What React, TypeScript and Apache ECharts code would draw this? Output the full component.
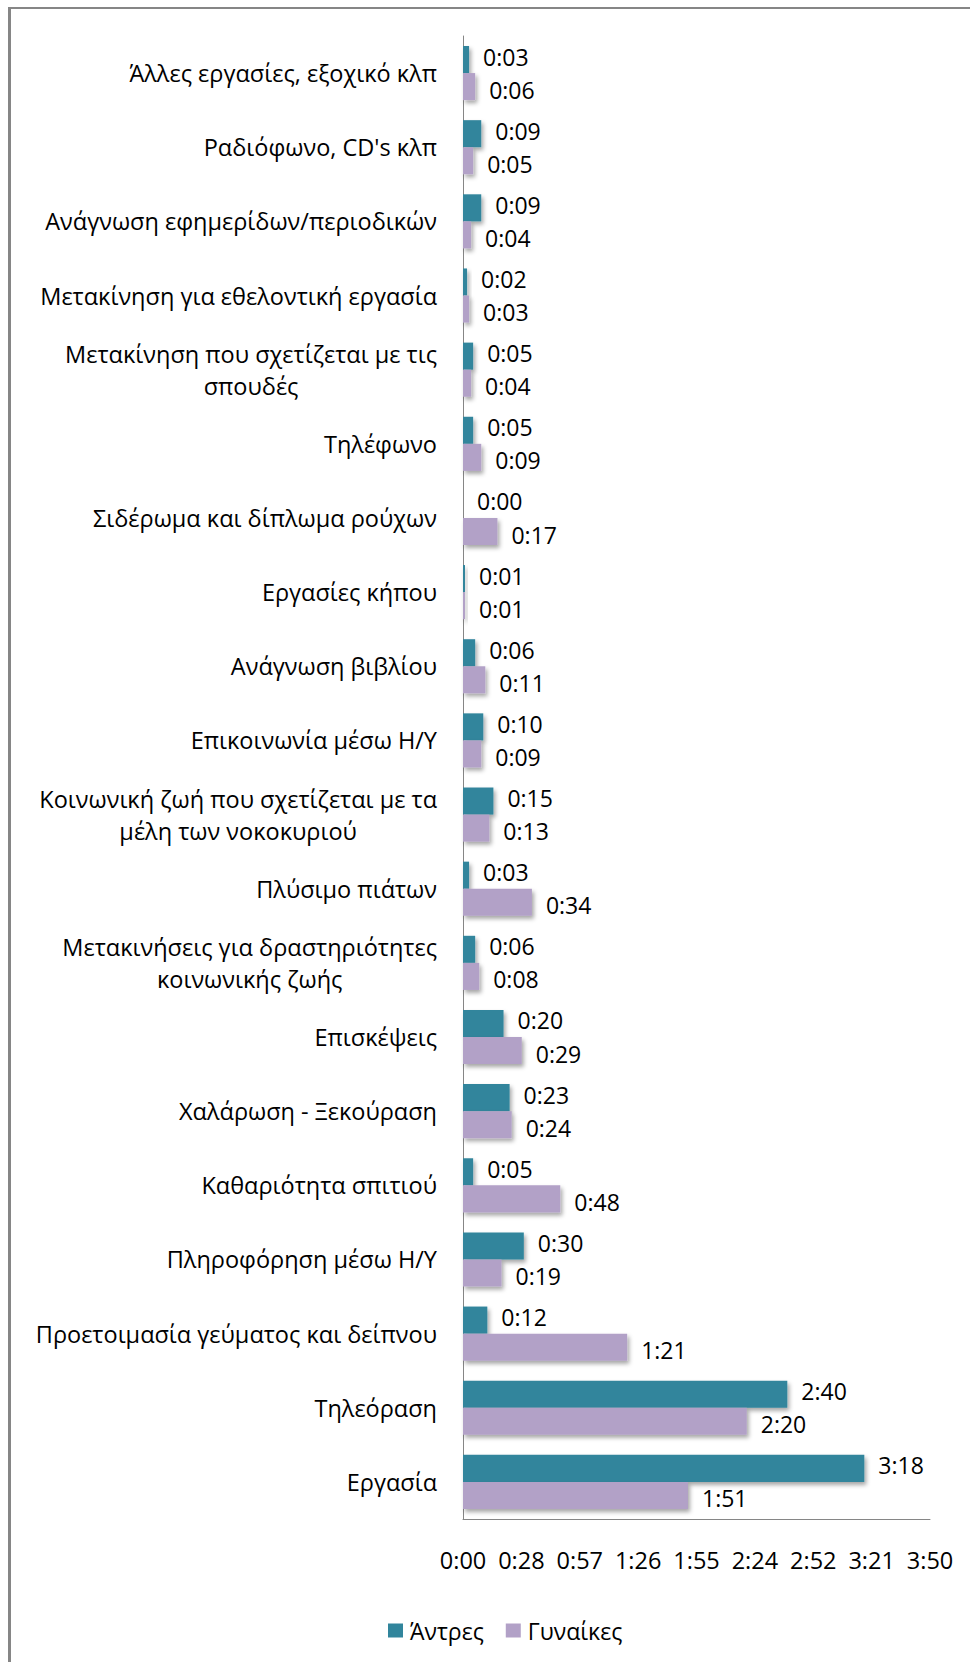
import React, { useEffect, useRef } from "react";
import * as echarts from "echarts";

// Categories, top to bottom as shown
const categories: string[] = [
  "Άλλες εργασίες, εξοχικό κλπ",
  "Ραδιόφωνο, CD's κλπ",
  "Ανάγνωση εφημερίδων/περιοδικών",
  "Μετακίνηση για εθελοντική εργασία",
  "Μετακίνηση που σχετίζεται με τις\nσπουδές",
  "Τηλέφωνο",
  "Σιδέρωμα και δίπλωμα ρούχων",
  "Εργασίες κήπου",
  "Ανάγνωση βιβλίου",
  "Επικοινωνία μέσω Η/Υ",
  "Κοινωνική ζωή που σχετίζεται με τα\nμέλη των νοκοκυριού",
  "Πλύσιμο πιάτων",
  "Μετακινήσεις για δραστηριότητες\nκοινωνικής ζωής",
  "Επισκέψεις",
  "Χαλάρωση - Ξεκούραση",
  "Καθαριότητα σπιτιού",
  "Πληροφόρηση μέσω Η/Υ",
  "Προετοιμασία γεύματος και δείπνου",
  "Τηλεόραση",
  "Εργασία",
];

// Minutes per day
const men: number[] = [3, 9, 9, 2, 5, 5, 0, 1, 6, 10, 15, 3, 6, 20, 23, 5, 30, 12, 160, 198];
const women: number[] = [6, 5, 4, 3, 4, 9, 17, 1, 11, 9, 13, 34, 8, 29, 24, 48, 19, 81, 140, 111];

const seriesNames: string[] = ["Άντρες", "Γυναίκες"];
const seriesColors: string[] = ["#31859C", "#B2A1C7"];

// Axis: 0.02 day steps (28.8 min) up to 0.16 day
const axisMax = 230.4;
const axisStep = 28.8;

const FONT = "Open Sans";

function fmt(v: number): string {
  const r = Math.round(v * 10) / 10;
  const h = Math.floor(r / 60);
  const m = Math.floor(r - h * 60);
  return h + ":" + (m < 10 ? "0" : "") + m;
}

export default function App() {
  const ref = useRef<HTMLDivElement>(null);
  useEffect(() => {
    if (!ref.current) return;
    const chart = echarts.init(ref.current, undefined, { renderer: "svg" });
    const mkSeries = (idx: number, data: number[]) => ({
      type: "bar",
      name: seriesNames[idx],
      data,
      barCategoryGap: "27%",
      barGap: "0%",
      itemStyle: {
        color: seriesColors[idx],
        shadowColor: "rgba(0,0,0,0.35)",
        shadowBlur: 4,
        shadowOffsetX: 2,
        shadowOffsetY: 3,
      },
      label: {
        show: true,
        position: "right",
        distance: 14,
        offset: [0, idx === 0 ? -3 : 3],
        color: "#000",
        fontFamily: FONT,
        fontSize: 23,
        lineHeight: 26,
        formatter: (p: any) => fmt(p.value),
      },
    });
    chart.setOption({
      animation: false,
      backgroundColor: "#fff",
      textStyle: { fontFamily: FONT },
      grid: { left: 463, right: 40, top: 36, bottom: 143, containLabel: false },
      xAxis: {
        type: "value",
        min: 0,
        max: axisMax,
        interval: axisStep,
        splitLine: { show: false },
        axisTick: { show: false },
        axisLine: { show: true, lineStyle: { color: "#868686", width: 1 } },
        axisLabel: {
          margin: 29,
          color: "#000",
          fontFamily: FONT,
          fontSize: 23.5,
          formatter: (v: number) => fmt(v),
        },
      },
      yAxis: {
        type: "category",
        inverse: true,
        data: categories,
        axisTick: { show: false },
        axisLine: { show: true, lineStyle: { color: "#868686", width: 1 } },
        axisLabel: {
          margin: 26,
          color: "#000",
          fontFamily: FONT,
          fontSize: 23.5,
          lineHeight: 32,
          formatter: (v: string) =>
            v
              .split("\n")
              .map((s) => "{c|" + s + "}")
              .join("\n"),
          rich: {
            c: { align: "center", fontFamily: FONT, fontSize: 23.5, lineHeight: 32, color: "#000" },
          },
        },
      },
      legend: {
        left: 383,
        top: 1614,
        icon: "rect",
        itemWidth: 15,
        itemHeight: 14,
        itemGap: 22,
        textStyle: { color: "#000", fontFamily: FONT, fontSize: 23, padding: [0, 0, 0, 2] },
        data: seriesNames,
      },
      graphic: [
        {
          type: "line",
          shape: { x1: 8, y1: 8, x2: 970, y2: 8 },
          style: { stroke: "#868686", lineWidth: 2 },
        },
        {
          type: "line",
          shape: { x1: 9.5, y1: 7, x2: 9.5, y2: 1662 },
          style: { stroke: "#868686", lineWidth: 3 },
        },
      ],
      series: [mkSeries(0, men), mkSeries(1, women)],
    });
    return () => chart.dispose();
  }, []);
  return (
    <div
      ref={ref}
      style={{ position: "absolute", left: 0, top: 0, width: 970, height: 1662, overflow: "hidden" }}
    />
  );
}
